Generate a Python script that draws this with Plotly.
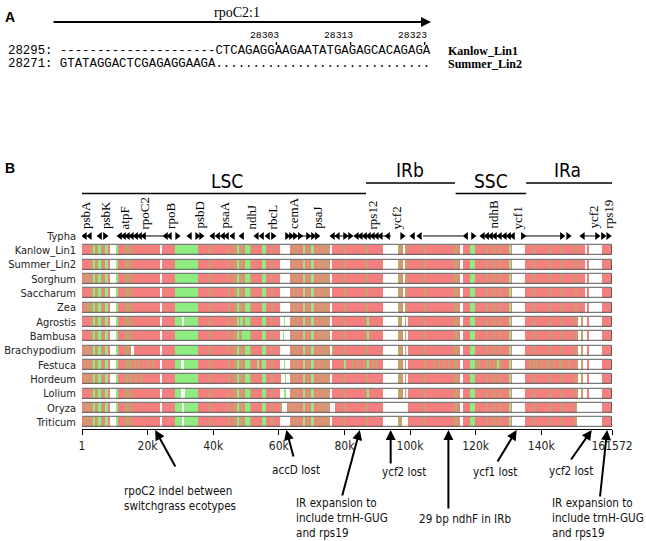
import plotly.graph_objects as go

# ---------------- data ----------------
ROWS = ["Kanlow_Lin1", "Summer_Lin2", "Sorghum", "Saccharum", "Zea", "Agrostis",
        "Bambusa", "Brachypodium", "Festuca", "Hordeum", "Lolium", "Oryza", "Triticum"]
GENOME_KB = 161.572

TICK_VALS = [0.001, 20, 40, 60, 80, 100, 120, 140, 161.572]
TICK_TEXT = ["1", "20k", "40k", "60k", "80k", "100k", "120k", "140k", "161572"]

REGION_NAMES = ["LSC", "IRb", "SSC", "IRa"]
REGION_START = [-1.0, 86.6, 113.9, 135.4]
REGION_END = [86.6, 113.7, 135.4, 161.6]
REGION_LABEL_POS = [44.2, 100.0, 124.6, 147.9]

# segments in kb (start, end) shared by all aligned genomes
COMMON_WHITE = [(8.4, 10.3), (23.85, 24.2), (75.6, 76.3), (91.8, 96.3), (97.9, 98.35),
                (115.3, 116.1), (131.2, 135.1), (153.6, 154.1), (154.5, 158.5)]
COMMON_GREEN = [(3.6, 4.0), (5.1, 5.7), (6.9, 7.9), (10.3, 10.9), (28.3, 35.3),
                (47.3, 47.9), (49.6, 51.1), (55.0, 56.0), (67.4, 68.1), (69.8, 70.8),
                (118.3, 119.8), (130.2, 130.7)]
COMMON_OLIVE = [(2.9, 3.3), (4.3, 4.7), (5.7, 6.1), (13.2, 13.6), (13.9, 14.3), (14.7, 15.1),
                (29.7, 30.1), (31.2, 31.6), (32.7, 33.1), (34.4, 34.8), (38.8, 39.2),
                (44.6, 45.0), (46.4, 46.8), (48.1, 48.4), (48.7, 49.0), (51.5, 51.9),
                (57.9, 58.3), (63.4, 63.8), (64.6, 65.0), (65.8, 66.1), (68.7, 69.1),
                (71.9, 72.3), (73.0, 73.4), (74.0, 74.4), (74.8, 75.2), (80.0, 80.4),
                (86.7, 87.1), (96.4, 97.4), (98.4, 99.0), (104.4, 104.8), (113.6, 114.0),
                (114.2, 114.5), (118.9, 119.2), (123.3, 123.7), (125.3, 125.7), (127.4, 127.8),
                (137.6, 138.0), (142.6, 143.0), (146.2, 146.6), (150.5, 150.9)]

EXTRA_WHITE = {
    "Kanlow_Lin1": [(60.4, 63.4)],
    "Summer_Lin2": [(60.4, 63.4)],
    "Sorghum": [(60.4, 63.4)],
    "Saccharum": [(60.4, 63.4)],
    "Zea": [(60.4, 63.4)],
    "Agrostis": [(60.4, 61.6), (62.0, 63.4), (30.6, 31.1), (97.5, 98.4), (99.0, 99.5),
                 (151.2, 152.0), (152.8, 153.6)],
    "Bambusa": [(60.4, 61.3), (61.7, 63.4), (99.0, 99.5), (151.2, 152.0), (152.8, 153.6)],
    "Brachypodium": [(60.4, 63.4), (15.0, 15.9), (99.0, 99.5), (151.2, 152.0), (152.8, 153.6)],
    "Festuca": [(60.4, 61.5), (61.9, 63.4), (30.1, 31.1), (99.0, 99.5), (151.2, 152.0),
                (152.8, 153.6)],
    "Hordeum": [(60.6, 61.9), (62.3, 63.4), (99.0, 99.5), (151.2, 152.0), (152.8, 153.6)],
    "Lolium": [(60.4, 61.7), (62.1, 63.4), (30.3, 31.3), (99.0, 99.5), (151.2, 152.0),
               (152.8, 153.6)],
    "Oryza": [(60.9, 62.4), (76.1, 77.1), (91.8, 99.5), (30.6, 31.1), (150.9, 153.4),
              (154.0, 158.5)],
    "Triticum": [(60.4, 63.4), (97.5, 99.5), (30.6, 31.1), (150.9, 153.3), (153.8, 158.5)],
}
EXTRA_GREEN = {
    "Agrostis": [(61.6, 62.0), (86.8, 87.6), (48.2, 49.2)],
    "Bambusa": [(61.3, 61.7), (86.8, 87.6), (48.9, 50.5)],
    "Festuca": [(61.5, 61.9), (53.6, 54.0), (55.6, 56.0), (80.0, 80.4), (86.8, 87.6),
                (126.7, 127.1)],
    "Hordeum": [(61.9, 62.3)],
    "Lolium": [(61.7, 62.1), (86.8, 87.6)],
}
EXTRA_OLIVE = {
    "Sorghum": [(0.8, 1.1), (1.8, 2.1)],
    "Zea": [(0.8, 1.1), (1.6, 1.9), (2.2, 2.5)],
    "Agrostis": [(152.1, 152.6)],
    "Bambusa": [(152.1, 152.6)],
    "Brachypodium": [(0.8, 1.1), (1.8, 2.1), (76.5, 76.9), (152.1, 152.6)],
    "Festuca": [(0.8, 1.1), (1.8, 2.1), (14.6, 14.9), (16.0, 16.3), (17.2, 17.5), (18.6, 18.9),
                (20.1, 20.4), (21.5, 21.8), (82.6, 82.9), (84.1, 84.4), (85.7, 86.0),
                (88.7, 89.0), (89.7, 90.0), (107.1, 107.4), (108.6, 108.9), (110.2, 110.5),
                (111.7, 112.0), (120.2, 120.5), (121.2, 121.5), (124.3, 124.6),
                (136.5, 136.8), (138.5, 138.8), (140.0, 140.3), (141.6, 141.9),
                (143.6, 143.9), (145.6, 145.9), (148.2, 148.5), (152.1, 152.6)],
    "Hordeum": [(0.8, 1.1), (1.8, 2.1), (16.2, 16.5), (17.8, 18.1), (152.1, 152.6)],
    "Lolium": [(152.1, 152.6)],
    "Oryza": [(0.8, 1.1), (1.8, 2.1), (60.4, 60.8), (153.5, 153.9)],
    "Triticum": [(0.8, 1.1), (1.8, 2.1), (153.35, 153.75)],
}

# Typha gene arrows (kb)
TYPHA_LEFT = [0.9, 2.4, 5.5, 11.6, 12.8, 14.0, 15.2, 16.5, 17.7, 18.9, 25.6, 26.8, 32.9,
              39.9, 41.5, 43.0, 44.2, 46.0, 48.8, 53.3, 54.9, 56.7, 76.5, 78.0, 83.8, 85.0,
              86.3, 87.5, 88.7, 89.9, 91.1, 93.3, 100.9, 103.0, 117.1, 122.2, 123.5, 124.7,
              125.9, 127.4, 128.9, 130.2, 131.4, 152.7]
TYPHA_RIGHT = [7.0, 29.0, 35.1, 36.3, 58.2, 62.5, 63.7, 64.9, 66.4, 68.9, 70.4, 71.6, 80.2,
               81.7, 97.6, 119.2, 134.4, 146.3, 148.2, 157.0, 158.8, 160.4]
TYPHA_SPANS = [(11.6, 24.7), (62.5, 71.6), (76.5, 81.7), (83.8, 94.2), (104.0, 116.1),
               (122.2, 131.4), (134.4, 146.3), (152.7, 157.0)]

GENE_NAMES = ["psbA", "psbK", "atpF", "rpoC2", "rpoB", "psbD", "psaA", "ndhJ", "rbcL", "cemA",
              "psaJ", "rps12", "ycf2", "ndhB", "ycf1", "ycf2", "rps19"]
GENE_POS = [0.9, 7.0, 13.1, 19.2, 26.8, 35.7, 43.3, 51.8, 58.2, 64.3, 71.6, 88.7, 96.0,
            125.3, 132.9, 155.8, 160.4]

NOTE_TEXT = ["rpoC2 indel between<br>switchgrass ecotypes", "accD lost",
             "IR expansion to<br>include trnH-GUG<br>and rps19", "ycf2 lost",
             "29 bp ndhF in IRb", "ycf1 lost", "ycf2 lost",
             "IR expansion to<br>include trnH-GUG<br>and rps19"]
NOTE_TARGET = [22.3, 62.3, 84.7, 94.1, 111.7, 132.5, 155.4, 160.1]

SEQ_NAMES = ["Kanlow_Lin1", "Summer_Lin2"]
SEQ_START = [28295, 28271]
SEQ_TEXT = ["---------------------CTCAGAGGAAGAATATGAGAGCACAGAGA",
            "GTATAGGACTCGAGAGGAAGA............................."]
SEQ_MARKS = [28303, 28313, 28323]

# ---------------- style ----------------
W, H = 646, 541
RED, GREEN, OLIVE = "#f47f7f", "#8eec80", "#c4a46c"
SANS = "DejaVu Sans Condensed, DejaVu Sans, sans-serif"
SERIF = "Liberation Serif, Times New Roman, serif"
MONO = "Liberation Mono, Courier New, monospace"


def fx(px):
    return px / W


def fy(py):
    return 1 - py / H


fig = go.Figure()


def add_bars(segs, color, line=None):
    ys, xs, bs = [], [], []
    for row, s, e in segs:
        ys.append(row)
        xs.append(e - s)
        bs.append(s)
    fig.add_trace(go.Bar(orientation="h", y=ys, x=xs, base=bs, width=0.7,
                         marker=dict(color=color, line=line or dict(width=0)),
                         hoverinfo="skip", showlegend=False))


add_bars([(r, 0, GENOME_KB) for r in ROWS], RED)
add_bars([(r, s, e) for r in ROWS for s, e in COMMON_OLIVE + EXTRA_OLIVE.get(r, [])], OLIVE)
add_bars([(r, s, e) for r in ROWS for s, e in COMMON_GREEN + EXTRA_GREEN.get(r, [])], GREEN)
add_bars([(r, s, e) for r in ROWS for s, e in COMMON_WHITE + EXTRA_WHITE.get(r, [])], "white")
add_bars([(r, 0, GENOME_KB) for r in ROWS], "rgba(0,0,0,0)",
         line=dict(color="#5c5c5c", width=1))

# Typha gene track
sx, sy = [], []
for s, e in TYPHA_SPANS:
    sx += [s, e, None]
    sy += ["Typha", "Typha", None]
fig.add_trace(go.Scatter(x=sx, y=sy, mode="lines", line=dict(color="black", width=1),
                         hoverinfo="skip", showlegend=False))
fig.add_trace(go.Scatter(x=TYPHA_LEFT, y=["Typha"] * len(TYPHA_LEFT), mode="markers",
                         marker=dict(symbol="triangle-left", size=7, color="black"),
                         hoverinfo="skip", showlegend=False))
fig.add_trace(go.Scatter(x=TYPHA_RIGHT, y=["Typha"] * len(TYPHA_RIGHT), mode="markers",
                         marker=dict(symbol="triangle-right", size=7, color="black"),
                         hoverinfo="skip", showlegend=False))

annotations = []
shapes = []

# region bars and labels
for i, (name, s, e, lp) in enumerate(zip(REGION_NAMES, REGION_START, REGION_END,
                                          REGION_LABEL_POS)):
    ly = 193.5 if i % 2 == 0 else 183
    shapes.append(dict(type="line", xref="x", yref="paper", x0=s, x1=e, y0=fy(ly), y1=fy(ly),
                       line=dict(color="black", width=1.5)))
    annotations.append(dict(x=lp, y=fy(ly - 13), xref="x", yref="paper",
                            text=name, showarrow=False, xanchor="center", yanchor="middle",
                            font=dict(family=SANS, size=19, color="black")))

# gene labels
for name, pos in zip(GENE_NAMES, GENE_POS):
    annotations.append(dict(x=pos, y=fy(231), xref="x", yref="paper", text=name,
                            textangle=-90, showarrow=False, xanchor="center",
                            yanchor="bottom", font=dict(family=SERIF, size=13, color="black")))

# bottom notes: arrows
tail_offsets = [(21, 38), (7.5, 28), (-18, 67), (0, 35), (0, 80), (-20, 33), (-21.7, 31),
                (-7.3, 68)]
for pos, (ax, ay) in zip(NOTE_TARGET, tail_offsets):
    annotations.append(dict(x=pos, y=fy(430), xref="x", yref="paper", text="", showarrow=True,
                            ax=ax, ay=ay, arrowhead=2, arrowsize=1, arrowwidth=2,
                            arrowcolor="black", standoff=0))
note_pos = [(122, 498, "left"), (296, 470, "center"), (294, 518, "left"),
            (404, 472, "center"), (465, 519, "center"), (495, 472, "center"),
            (571, 471, "center"), (550, 518, "left")]
for txt, (px, py, anc) in zip(NOTE_TEXT, note_pos):
    annotations.append(dict(x=fx(px), y=fy(py), xref="paper", yref="paper", text=txt,
                            showarrow=False, xanchor=anc, yanchor="middle", align="left",
                            font=dict(family=SANS, size=11.6, color="#111")))

# panel letters
annotations.append(dict(x=fx(3), y=fy(16.5), xref="paper", yref="paper", text="<b>A</b>",
                        showarrow=False, xanchor="left", yanchor="middle",
                        font=dict(family="Liberation Sans, Arial, sans-serif", size=14,
                                  color="black")))
annotations.append(dict(x=fx(3), y=fy(168), xref="paper", yref="paper", text="<b>B</b>",
                        showarrow=False, xanchor="left", yanchor="middle",
                        font=dict(family="Liberation Sans, Arial, sans-serif", size=14,
                                  color="black")))

# panel A: gene arrow
annotations.append(dict(x=fx(431), y=fy(22), xref="paper", yref="paper", text="",
                        showarrow=True, ax=-379, ay=0, arrowhead=2, arrowsize=1,
                        arrowwidth=2, arrowcolor="black", standoff=0))
annotations.append(dict(x=fx(237), y=fy(13), xref="paper", yref="paper", text="rpoC2:1",
                        showarrow=False, xanchor="center", yanchor="middle",
                        font=dict(family=SERIF, size=14, color="black")))

# panel A: alignment
CH = 7.41
X0 = 6
seq_y = [51.2, 63.6]
for name, start, seq, yy in zip(SEQ_NAMES, SEQ_START, SEQ_TEXT, seq_y):
    annotations.append(dict(x=fx(X0), y=fy(yy), xref="paper", yref="paper",
                            text=f"{start}: {seq}", showarrow=False, xanchor="left",
                            yanchor="middle", font=dict(family=MONO, size=12.35, color="black")))
    annotations.append(dict(x=fx(446), y=fy(yy), xref="paper", yref="paper",
                            text=f"<b>{name}</b>", showarrow=False, xanchor="left",
                            yanchor="middle", font=dict(family=SERIF, size=12, color="black")))
prefix = len(f"{SEQ_START[0]}: ")
first_base = len(SEQ_TEXT[0]) - len(SEQ_TEXT[0].lstrip("-"))
for m in SEQ_MARKS:
    idx = prefix + first_base + (m - SEQ_START[0])
    annotations.append(dict(x=fx(X0 + (idx + 1) * CH + 1), y=fy(35), xref="paper",
                            yref="paper", text=str(m), showarrow=False, xanchor="right",
                            yanchor="middle", font=dict(family=MONO, size=9.7, color="black")))
    cx = fx(X0 + (idx + 0.5) * CH)
    shapes.append(dict(type="line", xref="paper", yref="paper", x0=cx, x1=cx,
                       y0=fy(42), y1=fy(47.5), line=dict(color="black", width=1.3, dash="dot")))

fig.update_layout(
    width=W, height=H, margin=dict(l=0, r=0, t=0, b=0, autoexpand=False),
    paper_bgcolor="white", plot_bgcolor="white", barmode="overlay", bargap=0,
    annotations=annotations, shapes=shapes, showlegend=False,
    xaxis=dict(domain=[fx(82), fx(612)], range=[0.001, GENOME_KB], tickvals=TICK_VALS,
               ticktext=TICK_TEXT, showgrid=False, zeroline=False, showline=True,
               linecolor="black", linewidth=1, ticks="outside", ticklen=5,
               tickcolor="black", automargin=False,
               tickfont=dict(family=SANS, size=12, color="#222")),
    yaxis=dict(domain=[fy(429.2), fy(228.8)], type="category",
               categoryorder="array", categoryarray=["Typha"] + ROWS,
               range=[13.5, -0.5], showgrid=False, zeroline=False, showline=False,
               ticks="", ticklabelstandoff=5, automargin=False,
               tickfont=dict(family=SANS, size=11, color="#222")),
)

fig.write_html("out.html", config={"responsive": False, "displayModeBar": False},
               post_script="document.body.style.margin='0';document.body.style.padding='0';")
